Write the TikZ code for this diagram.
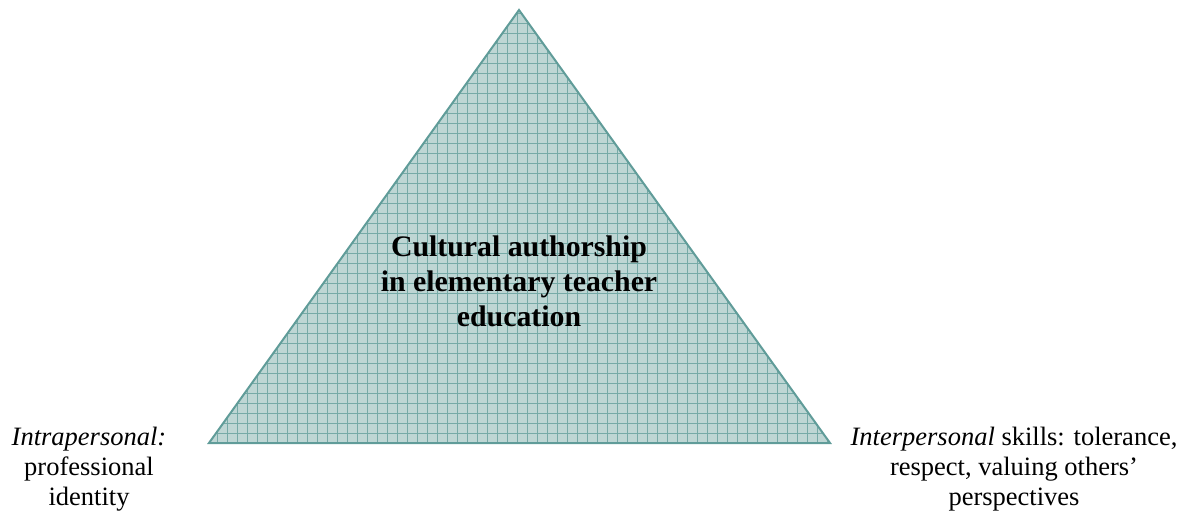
\documentclass[tikz,border=0pt]{standalone}
\usepackage{fontspec}
\setmainfont{Liberation Serif}
\begin{document}
\begin{tikzpicture}[x=1pt,y=-1pt,
  tealfill/.style={fill={rgb,255:red,190;green,214;blue,212}},
  gridline/.style={draw={rgb,255:red,118;green,170;blue,167},line width=0.8pt},
  rim/.style={draw={rgb,255:red,96;green,156;blue,153},line width=2pt,line join=miter},
  label/.style={align=center,font=\fontsize{26.5}{30}\selectfont,inner sep=0pt},
  title/.style={align=center,font=\fontsize{29.8}{35}\selectfont\bfseries,inner sep=0pt}]
\useasboundingbox (0,0) rectangle (1184,516);
\coordinate (apex) at (519,10);
\coordinate (bl) at (209,443);
\coordinate (br) at (830,443);
% triangle with squared pattern
\begin{scope}
  \clip (apex) -- (bl) -- (br) -- cycle;
  \fill[tealfill] (200,0) rectangle (840,450);
  \foreach \gx in {207,217,...,837} \draw[gridline] (\gx,0) -- (\gx,450);
  \foreach \gy in {13,23,...,453} \draw[gridline] (200,\gy) -- (840,\gy);
\end{scope}
\draw[rim] (apex) -- (bl) -- (br) -- cycle;
\node[title] (core) at (519,281) {Cultural authorship\\in elementary teacher\\education};
\node[label] (intra) at (89,469) {\textit{Intrapersonal:}\\professional\\identity};
\node[label] (inter) at (1014,469) {\textit{Interpersonal} skills: tolerance,\\respect, valuing others’\\perspectives};
\end{tikzpicture}
\end{document}
